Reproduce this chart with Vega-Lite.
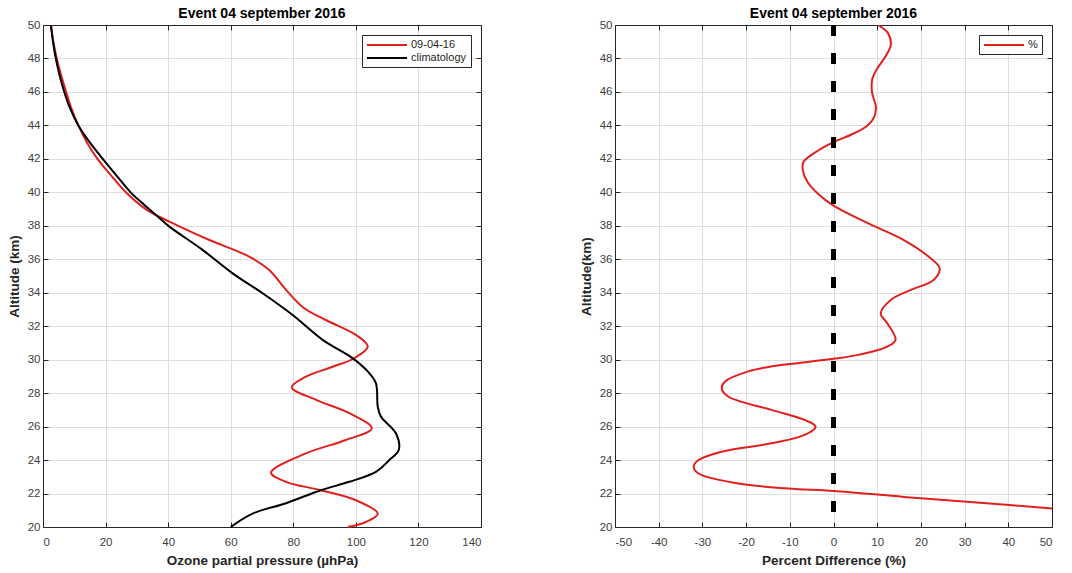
{
  "$schema": "https://vega.github.io/schema/vega-lite/v6.json",
  "padding": {"left": 6, "top": 6, "right": 5, "bottom": 2},
  "background": "white",
  "datasets": {
    "ozone": [
      {"series": "09-04-16", "alt": 50, "p": 2.6},
      {"series": "09-04-16", "alt": 49, "p": 3.3},
      {"series": "09-04-16", "alt": 48, "p": 4.4},
      {"series": "09-04-16", "alt": 47, "p": 5.8},
      {"series": "09-04-16", "alt": 46, "p": 7.4},
      {"series": "09-04-16", "alt": 45, "p": 9.1},
      {"series": "09-04-16", "alt": 44, "p": 11.3},
      {"series": "09-04-16", "alt": 43, "p": 14.0},
      {"series": "09-04-16", "alt": 42, "p": 17.4},
      {"series": "09-04-16", "alt": 41, "p": 21.8},
      {"series": "09-04-16", "alt": 40, "p": 26.5},
      {"series": "09-04-16", "alt": 39, "p": 32.8},
      {"series": "09-04-16", "alt": 38.25, "p": 40.4},
      {"series": "09-04-16", "alt": 37.15, "p": 53.2},
      {"series": "09-04-16", "alt": 36.16, "p": 65.9},
      {"series": "09-04-16", "alt": 35.36, "p": 72.3},
      {"series": "09-04-16", "alt": 34.17, "p": 77.7},
      {"series": "09-04-16", "alt": 33.07, "p": 83.5},
      {"series": "09-04-16", "alt": 32.37, "p": 90.4},
      {"series": "09-04-16", "alt": 31.48, "p": 100.0},
      {"series": "09-04-16", "alt": 30.78, "p": 103.8},
      {"series": "09-04-16", "alt": 30.04, "p": 99.0},
      {"series": "09-04-16", "alt": 29.58, "p": 92.6},
      {"series": "09-04-16", "alt": 28.98, "p": 84.0},
      {"series": "09-04-16", "alt": 28.35, "p": 79.5},
      {"series": "09-04-16", "alt": 27.6, "p": 87.3},
      {"series": "09-04-16", "alt": 26.8, "p": 97.9},
      {"series": "09-04-16", "alt": 25.9, "p": 105.1},
      {"series": "09-04-16", "alt": 25.2, "p": 96.8},
      {"series": "09-04-16", "alt": 24.4, "p": 84.0},
      {"series": "09-04-16", "alt": 23.25, "p": 72.9},
      {"series": "09-04-16", "alt": 22.7, "p": 77.7},
      {"series": "09-04-16", "alt": 22.2, "p": 88.8},
      {"series": "09-04-16", "alt": 21.6, "p": 100.0},
      {"series": "09-04-16", "alt": 20.8, "p": 107.0},
      {"series": "09-04-16", "alt": 20.3, "p": 103.2},
      {"series": "09-04-16", "alt": 20, "p": 97.5},
      {"series": "climatology", "alt": 50, "p": 2.5},
      {"series": "climatology", "alt": 49, "p": 3.2},
      {"series": "climatology", "alt": 48, "p": 4.1},
      {"series": "climatology", "alt": 47, "p": 5.3},
      {"series": "climatology", "alt": 46, "p": 6.8},
      {"series": "climatology", "alt": 45, "p": 8.7},
      {"series": "climatology", "alt": 44, "p": 11.3},
      {"series": "climatology", "alt": 43, "p": 14.9},
      {"series": "climatology", "alt": 42, "p": 19.1},
      {"series": "climatology", "alt": 41, "p": 23.5},
      {"series": "climatology", "alt": 40, "p": 28.0},
      {"series": "climatology", "alt": 39.25, "p": 32.4},
      {"series": "climatology", "alt": 38.6, "p": 36.4},
      {"series": "climatology", "alt": 37.95, "p": 40.4},
      {"series": "climatology", "alt": 36.56, "p": 51.0},
      {"series": "climatology", "alt": 35.16, "p": 60.6},
      {"series": "climatology", "alt": 33.97, "p": 70.2},
      {"series": "climatology", "alt": 32.67, "p": 79.8},
      {"series": "climatology", "alt": 31.18, "p": 89.4},
      {"series": "climatology", "alt": 30.08, "p": 99.0},
      {"series": "climatology", "alt": 29.3, "p": 103.8},
      {"series": "climatology", "alt": 28.6, "p": 106.4},
      {"series": "climatology", "alt": 27.19, "p": 107.0},
      {"series": "climatology", "alt": 26.6, "p": 108.0},
      {"series": "climatology", "alt": 25.6, "p": 112.8},
      {"series": "climatology", "alt": 24.6, "p": 113.7},
      {"series": "climatology", "alt": 24.0, "p": 110.7},
      {"series": "climatology", "alt": 23.3, "p": 106.4},
      {"series": "climatology", "alt": 22.7, "p": 97.9},
      {"series": "climatology", "alt": 22.2, "p": 88.8},
      {"series": "climatology", "alt": 21.42, "p": 77.7},
      {"series": "climatology", "alt": 20.8, "p": 67.0},
      {"series": "climatology", "alt": 20, "p": 60.0}
    ],
    "diff": [
      {"series": "%", "alt": 50, "d": 10.2},
      {"series": "%", "alt": 49.5, "d": 12.5},
      {"series": "%", "alt": 48.8, "d": 13.1},
      {"series": "%", "alt": 48, "d": 11.6},
      {"series": "%", "alt": 47.4, "d": 10.0},
      {"series": "%", "alt": 46.8, "d": 8.9},
      {"series": "%", "alt": 46, "d": 8.8},
      {"series": "%", "alt": 45.1, "d": 9.7},
      {"series": "%", "alt": 44.5, "d": 9.3},
      {"series": "%", "alt": 44, "d": 7.8},
      {"series": "%", "alt": 43.5, "d": 4.5},
      {"series": "%", "alt": 43, "d": 0},
      {"series": "%", "alt": 42.5, "d": -3.5},
      {"series": "%", "alt": 41.8, "d": -6.9},
      {"series": "%", "alt": 41.3, "d": -7.0},
      {"series": "%", "alt": 40.6, "d": -5.9},
      {"series": "%", "alt": 39.9, "d": -3.5},
      {"series": "%", "alt": 39.2, "d": 0},
      {"series": "%", "alt": 38.2, "d": 7.5},
      {"series": "%", "alt": 37.15, "d": 16.1},
      {"series": "%", "alt": 36.15, "d": 21.8},
      {"series": "%", "alt": 35.46, "d": 24.3},
      {"series": "%", "alt": 34.76, "d": 22.9},
      {"series": "%", "alt": 34.16, "d": 17.6},
      {"series": "%", "alt": 33.57, "d": 13.1},
      {"series": "%", "alt": 32.77, "d": 10.8},
      {"series": "%", "alt": 32.18, "d": 12.3},
      {"series": "%", "alt": 31.18, "d": 14.2},
      {"series": "%", "alt": 30.78, "d": 12.3},
      {"series": "%", "alt": 30.3, "d": 6.0},
      {"series": "%", "alt": 30.05, "d": 0},
      {"series": "%", "alt": 29.6, "d": -14.1},
      {"series": "%", "alt": 29.3, "d": -19.5},
      {"series": "%", "alt": 28.7, "d": -24.8},
      {"series": "%", "alt": 28.3, "d": -25.6},
      {"series": "%", "alt": 27.8, "d": -24.1},
      {"series": "%", "alt": 27.0, "d": -14.2},
      {"series": "%", "alt": 26.4, "d": -6.6},
      {"series": "%", "alt": 26.0, "d": -4.1},
      {"series": "%", "alt": 25.5, "d": -6.6},
      {"series": "%", "alt": 25.0, "d": -14.2},
      {"series": "%", "alt": 24.5, "d": -25.6},
      {"series": "%", "alt": 24.0, "d": -30.9},
      {"series": "%", "alt": 23.6, "d": -32.0},
      {"series": "%", "alt": 23.2, "d": -30.9},
      {"series": "%", "alt": 22.6, "d": -21.8},
      {"series": "%", "alt": 22.3, "d": -10.4},
      {"series": "%", "alt": 22.15, "d": 0},
      {"series": "%", "alt": 21.8, "d": 16.1},
      {"series": "%", "alt": 21.5, "d": 31.3},
      {"series": "%", "alt": 21.1, "d": 50.0},
      {"series": "%", "alt": 20.8, "d": 64.0}
    ]
  },
  "config": {
    "font": "Liberation Sans",
    "view": {"stroke": "#262626", "strokeWidth": 1},
    "axis": {
      "labelFont": "Liberation Sans",
      "labelFontSize": 11.5,
      "labelColor": "#404040",
      "titleFont": "Liberation Sans",
      "titleFontSize": 13.5,
      "titleFontWeight": "bold",
      "titleColor": "#262626",
      "domainColor": "#262626",
      "tickColor": "#262626",
      "gridColor": "#dedede",
      "gridWidth": 1,
      "labelPadding": 3
    },
    "title": {"font": "Liberation Sans", "fontSize": 14, "fontWeight": "bold", "color": "#000", "offset": -2},
    "legend": {
      "labelFont": "Liberation Sans",
      "labelFontSize": 11,
      "labelColor": "#262626",
      "strokeColor": "#262626",
      "fillColor": "white",
      "padding": 4,
      "symbolType": "M-1,0H7",
      "symbolStrokeWidth": 2,
      "symbolSize": 100,
      "rowPadding": 2,
      "labelOffset": 33
    }
  },
  "hconcat": [
    {
      "width": 438,
      "height": 502,
      "title": "Event 04 september 2016",
      "data": {"name": "ozone"},
      "layer": [
        {
          "mark": {"type": "line", "interpolate": "catmull-rom", "strokeWidth": 2},
          "encoding": {
            "x": {
              "field": "p", "type": "quantitative",
              "scale": {"domain": [0, 140], "nice": false, "zero": false},
              "axis": {"orient": "bottom", "title": "Ozone partial pressure (µhPa)", "values": [0, 20, 40, 60, 80, 100, 120, 140], "tickSize": -5, "labelPadding": 14, "titlePadding": 6, "grid": true, "labelExpr": "'' + datum.value"}
            },
            "y": {
              "field": "alt", "type": "quantitative",
              "scale": {"domain": [20, 50], "nice": false, "zero": false},
              "axis": {"orient": "left", "title": "Altitude (km)", "values": [20, 22, 24, 26, 28, 30, 32, 34, 36, 38, 40, 42, 44, 46, 48, 50], "tickSize": -5, "labelPadding": 8, "titlePadding": 6, "grid": true, "labelExpr": "'' + datum.value"}
            },
            "color": {
              "field": "series", "type": "nominal",
              "scale": {"domain": ["09-04-16", "climatology"], "range": ["#e0201e", "#000000"]},
              "legend": {"title": null, "orient": "top-right", "offset": 10}
            },
            "order": {"field": "alt", "sort": "descending"}
          }
        },
        {
          "mark": {"type": "point", "opacity": 0},
          "encoding": {
            "x": {"field": "p", "type": "quantitative", "axis": {"orient": "top", "title": null, "labels": false, "grid": false, "tickSize": -5, "values": [0, 20, 40, 60, 80, 100, 120, 140]}},
            "y": {"field": "alt", "type": "quantitative", "axis": {"orient": "right", "title": null, "labels": false, "grid": false, "tickSize": -5, "values": [20, 22, 24, 26, 28, 30, 32, 34, 36, 38, 40, 42, 44, 46, 48, 50]}}
          }
        }
      ],
      "resolve": {"axis": {"x": "independent", "y": "independent"}}
    },
    {
      "width": 437,
      "height": 502,
      "title": "Event 04 september 2016",
      "data": {"name": "diff"},
      "layer": [
        {
          "mark": {"type": "line", "interpolate": "catmull-rom", "strokeWidth": 2, "clip": true},
          "encoding": {
            "x": {
              "field": "d", "type": "quantitative",
              "scale": {"domain": [-50, 50], "nice": false, "zero": false},
              "axis": {"orient": "bottom", "title": "Percent Difference (%)", "values": [-50, -40, -30, -20, -10, 0, 10, 20, 30, 40, 50], "tickSize": -5, "labelPadding": 14, "titlePadding": 6, "grid": true, "labelExpr": "'' + datum.value"}
            },
            "y": {
              "field": "alt", "type": "quantitative",
              "scale": {"domain": [20, 50], "nice": false, "zero": false},
              "axis": {"orient": "left", "title": "Altitude(km)", "values": [20, 22, 24, 26, 28, 30, 32, 34, 36, 38, 40, 42, 44, 46, 48, 50], "tickSize": -5, "labelPadding": 8, "titlePadding": 6, "grid": true, "labelExpr": "'' + datum.value"}
            },
            "color": {
              "field": "series", "type": "nominal",
              "scale": {"domain": ["%"], "range": ["#e0201e"]},
              "legend": {"title": null, "orient": "top-right", "offset": 10}
            },
            "order": {"field": "alt", "sort": "descending"}
          }
        },
        {
          "mark": {"type": "rule", "color": "#000000", "strokeWidth": 3.5, "strokeDash": [11, 17]},
          "encoding": {"x": {"datum": 0, "type": "quantitative", "axis": null}}
        },
        {
          "mark": {"type": "point", "opacity": 0},
          "encoding": {
            "x": {"field": "d", "type": "quantitative", "axis": {"orient": "top", "title": null, "labels": false, "grid": false, "tickSize": -5, "values": [-50, -40, -30, -20, -10, 0, 10, 20, 30, 40, 50]}},
            "y": {"field": "alt", "type": "quantitative", "axis": {"orient": "right", "title": null, "labels": false, "grid": false, "tickSize": -5, "values": [20, 22, 24, 26, 28, 30, 32, 34, 36, 38, 40, 42, 44, 46, 48, 50]}}
          }
        }
      ],
      "resolve": {"axis": {"x": "independent", "y": "independent"}, "scale": {"color": "independent"}}
    }
  ],
  "spacing": 96,
  "resolve": {"scale": {"color": "independent"}}
}
